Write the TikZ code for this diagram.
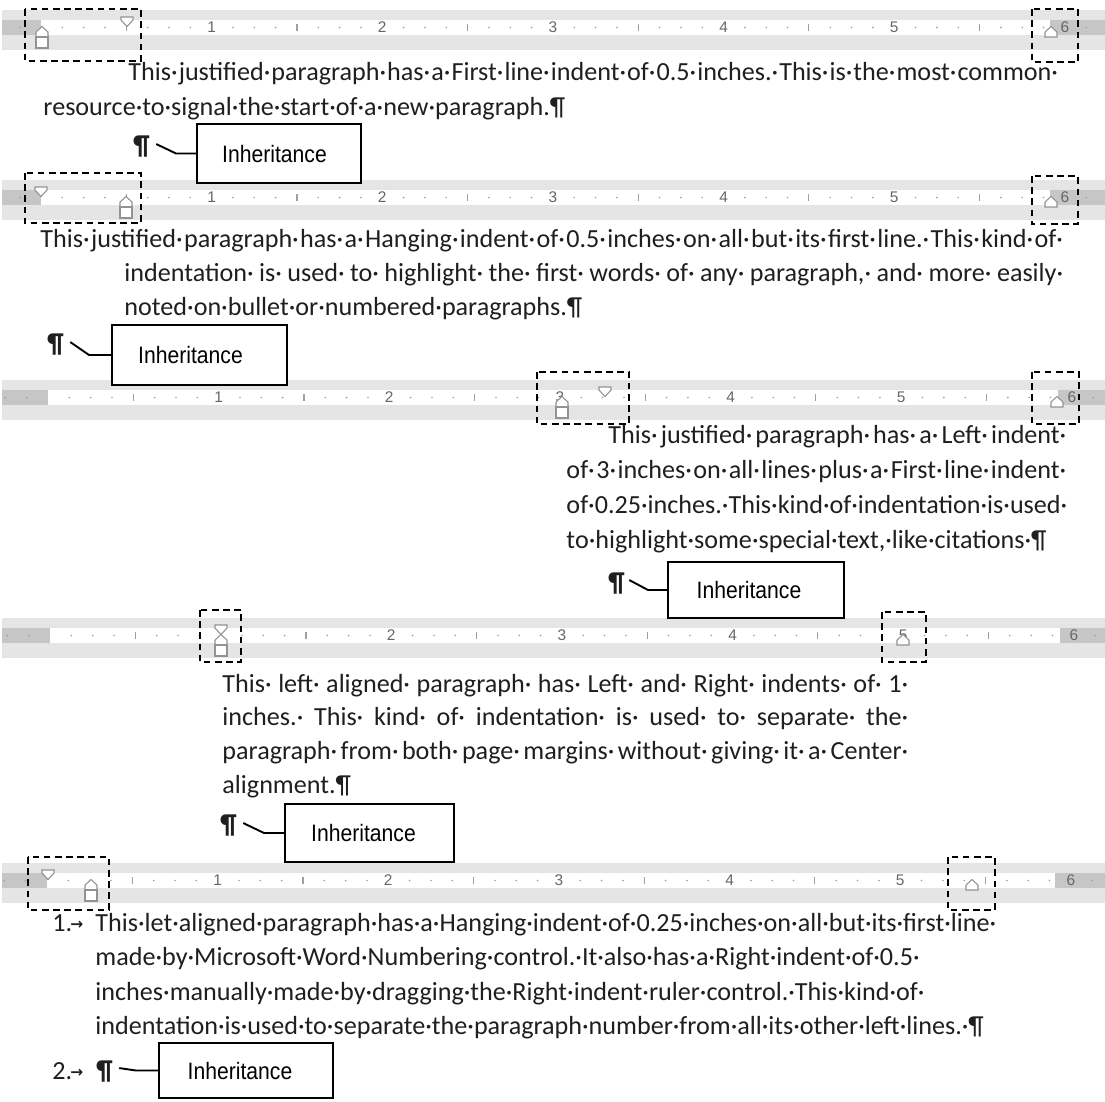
\documentclass[tikz,border=0pt]{standalone}
\usepackage{fontspec}
\setmainfont{Carlito}
\newfontfamily\boxfont[FakeStretch=0.89]{Liberation Sans}
\newfontfamily\rulerfont{Liberation Sans}
\newfontfamily\arrowfont{DejaVu Sans}
\usetikzlibrary{calc}

\newlength{\px}
\setlength{\px}{0.42105pt}
% formatting mark for a space, stretchable when a line is justified
\newcommand{\ws}{·\hskip 0pt plus 1fil\relax}

% ruler: #1 top of band, #2 zero mark, #3 right margin
\newcommand{\wordruler}[3]{%
  \fill[rulerband] (2,#1) rectangle (1105,#1+40);
  \fill[rulermargin] (2,#1+10) rectangle (#2,#1+25);
  \fill[white] (#2,#1+10) rectangle (#3,#1+25);
  \fill[rulermargin] (#3,#1+10) rectangle (1105,#1+25);
  \foreach \k in {-2,...,49} {
    \pgfmathsetmacro{\tx}{#2+\k*21.33}
    \pgfmathtruncatemacro{\km}{mod(\k+16,8)}
    \ifnum\km=0
      \ifnum\k>0 \node[rulernum] at (\tx,#1+17.5) {\the\numexpr\k/8\relax}; \fi
    \else\ifnum\km=4
      \draw[rulertick] (\tx,#1+14) -- (\tx,#1+21);
    \else
      \fill[rulerdot] (\tx,#1+17.5) circle[radius=0.9];
    \fi\fi
  }%
}

\begin{document}
\begin{tikzpicture}[
    x=0.42105pt, y=-0.42105pt,
    txt/.style={anchor=base west, inner sep=0pt, text=black!88, font=\fontsize{11pt}{13pt}\selectfont},
    pilcrow/.style={txt, font=\fontsize{11.5pt}{13pt}\selectfont\bfseries},
    tabmark/.style={txt, font=\arrowfont\fontsize{6.5pt}{7pt}\selectfont\bfseries},
    inhbox/.style={draw, line width=0.8pt, fill=white, inner sep=0pt, font=\boxfont\fontsize{10pt}{12pt}\selectfont},
    leader/.style={line width=0.8pt},
    hilite/.style={line width=0.9pt, dash pattern=on 2.8pt off 1.9pt},
    rulerband/.style={fill=gray!20},
    rulermargin/.style={fill=gray!45},
    rulerdot/.style={fill=gray!75},
    rulertick/.style={draw=gray!75, line width=0.5pt},
    rulernum/.style={inner sep=0pt, text=gray!80!black, font=\rulerfont\fontsize{6.5pt}{7pt}\selectfont},
    marker/.style={draw=gray!85, fill=white, line width=0.45pt},
    firstind/.pic={\filldraw[marker] (-6,7) -- (6,7) -- (6,10) -- (0,16.5) -- (-6,10) -- cycle;},
    rightind/.pic={\filldraw[marker] (0,16.5) -- (6,22) -- (6,27) -- (-6,27) -- (-6,22) -- cycle;},
    hangind/.pic={\filldraw[marker] (0,16.5) -- (6,22) -- (6,27) -- (-6,27) -- (-6,22) -- cycle;
                  \filldraw[marker] (-6,27) rectangle (6,38);}
]
\useasboundingbox (0,0) rectangle (1105,1101);
\fill[white] (0,0) rectangle (1105,1101);

% Rulers
\wordruler{10}{41}{1050}
\wordruler{180}{41}{1050}
\wordruler{380}{48}{1058}
\wordruler{618}{50}{1060}
\wordruler{863}{47}{1055}

% Indent markers
\pic at (42,10) {hangind};
\pic at (127,10) {firstind};
\pic at (1051,10) {rightind};
\pic at (41,180) {firstind};
\pic at (126,180) {hangind};
\pic at (1051,180) {rightind};
\pic at (562,380) {hangind};
\pic at (605,380) {firstind};
\pic at (1057,380) {rightind};
\pic at (221,618) {firstind};
\pic at (221,618) {hangind};
\pic at (903,618) {rightind};
\pic at (48,863) {firstind};
\pic at (91,863) {hangind};
\pic at (972,863) {rightind};

% Highlight frames
\draw[hilite] (25,9) rectangle (141,61);
\draw[hilite] (1032,9) rectangle (1078,62);
\draw[hilite] (25,173) rectangle (141,223);
\draw[hilite] (1032,176) rectangle (1078,224);
\draw[hilite] (537,372) rectangle (629,424);
\draw[hilite] (1032,372) rectangle (1079,424);
\draw[hilite] (200,610) rectangle (241,662);
\draw[hilite] (882,612) rectangle (926,662);
\draw[hilite] (28,857) rectangle (109,910);
\draw[hilite] (948,857) rectangle (995,910);

% Paragraph 1: first line indent
\node[txt] (p1a) at (128,80) {\makebox[930\px][s]{This\ws justified\ws paragraph\ws has\ws a\ws First\ws line\ws indent\ws of\ws 0.5\ws inches.\ws This\ws is\ws the\ws most\ws common·}};
\node[txt] (p1b) at (43,115) {resource\ws to\ws signal\ws the\ws start\ws of\ws a\ws new\ws paragraph.¶};
\node[pilcrow] (pil1) at (133,154) {¶};
\node[inhbox, minimum width=164*\px, minimum height=59*\px] (box1) at (279,153.5) {Inheritance\hspace*{9\px}};
\draw[leader] ($(pil1.east)+(6,-2)$) -- ($(box1.west)+(-20,0)$) -- (box1.west);

% Paragraph 2: hanging indent
\node[txt] (p2a) at (40,247) {\makebox[1023\px][s]{This\ws justified\ws paragraph\ws has\ws a\ws Hanging\ws indent\ws of\ws 0.5\ws inches\ws on\ws all\ws but\ws its\ws first\ws line.\ws This\ws kind\ws of·}};
\node[txt] (p2b) at (124,281) {\makebox[939\px][s]{indentation\ws is\ws used\ws to\ws highlight\ws the\ws first\ws words\ws of\ws any\ws paragraph,\ws and\ws more\ws easily·}};
\node[txt] (p2c) at (124,315) {noted\ws on\ws bullet\ws or\ws numbered\ws paragraphs.¶};
\node[pilcrow] (pil2) at (47,352) {¶};
\node[inhbox, minimum width=175*\px, minimum height=60*\px] (box2) at (199.5,355) {Inheritance\hspace*{18\px}};
\draw[leader] ($(pil2.east)+(6,-2)$) -- ($(box2.west)+(-22,0)$) -- (box2.west);

% Paragraph 3: left indent plus first line
\node[txt] (p3a) at (608,443) {\makebox[458\px][s]{This\ws justified\ws paragraph\ws has\ws a\ws Left\ws indent·}};
\node[txt] (p3b) at (566,478) {\makebox[500\px][s]{of\ws 3\ws inches\ws on\ws all\ws lines\ws plus\ws a\ws First\ws line\ws indent·}};
\node[txt] (p3c) at (566,513) {\makebox[500\px][s]{of\ws 0.25\ws inches.\ws This\ws kind\ws of\ws indentation\ws is\ws used·}};
\node[txt] (p3d) at (566,548) {to\ws highlight\ws some\ws special\ws text,\ws like\ws citations\ws ¶};
\node[pilcrow] (pil3) at (608,591) {¶};
\node[inhbox, minimum width=176*\px, minimum height=56*\px] (box3) at (756,590) {Inheritance\hspace*{14\px}};
\draw[leader] ($(pil3.east)+(4,-3)$) -- ($(box3.west)+(-19,0)$) -- (box3.west);

% Paragraph 4: left and right indents
\node[txt] (p4a) at (222,692) {\makebox[686\px][s]{This\ws left\ws aligned\ws paragraph\ws has\ws Left\ws and\ws Right\ws indents\ws of\ws 1·}};
\node[txt] (p4b) at (222,725) {\makebox[686\px][s]{inches.\ws This\ws kind\ws of\ws indentation\ws is\ws used\ws to\ws separate\ws the·}};
\node[txt] (p4c) at (222,759) {\makebox[686\px][s]{paragraph\ws from\ws both\ws page\ws margins\ws without\ws giving\ws it\ws a\ws Center·}};
\node[txt] (p4d) at (222,793) {alignment.¶};
\node[pilcrow] (pil4) at (220,833) {¶};
\node[inhbox, minimum width=169*\px, minimum height=58*\px] (box4) at (369.5,833) {Inheritance\hspace*{12\px}};
\draw[leader] ($(pil4.east)+(6,-2)$) -- ($(box4.west)+(-20,0)$) -- (box4.west);

% Paragraph 5: numbered list with right indent
\node[txt] (num1) at (52,931) {1.};
\node[tabmark] (tab1) at (70,929) {→};
\node[txt] (p5a) at (95,931) {This\ws let\ws aligned\ws paragraph\ws has\ws a\ws Hanging\ws indent\ws of\ws 0.25\ws inches\ws on\ws all\ws but\ws its\ws first\ws line·};
\node[txt] (p5b) at (95,965) {made\ws by\ws Microsoft\ws Word\ws Numbering\ws control.\ws It\ws also\ws has\ws a\ws Right\ws indent\ws of\ws 0.5·};
\node[txt] (p5c) at (95,1000) {inches\ws manually\ws made\ws by\ws dragging\ws the\ws Right\ws indent\ws ruler\ws control.\ws This\ws kind\ws of·};
\node[txt] (p5d) at (95,1034) {indentation\ws is\ws used\ws to\ws separate\ws the\ws paragraph\ws number\ws from\ws all\ws its\ws other\ws left\ws lines.\ws ¶};
\node[txt] (num2) at (52,1079) {2.};
\node[tabmark] (tab2) at (70,1077) {→};
\node[pilcrow] (pil5) at (96,1079) {¶};
\node[inhbox, minimum width=174*\px, minimum height=55*\px] (box5) at (246,1070.5) {Inheritance\hspace*{12\px}};
\draw[leader] ($(pil5.east)+(6,-3)$) -- ($(box5.west)+(-22,0)$) -- (box5.west);

\end{tikzpicture}
\end{document}
